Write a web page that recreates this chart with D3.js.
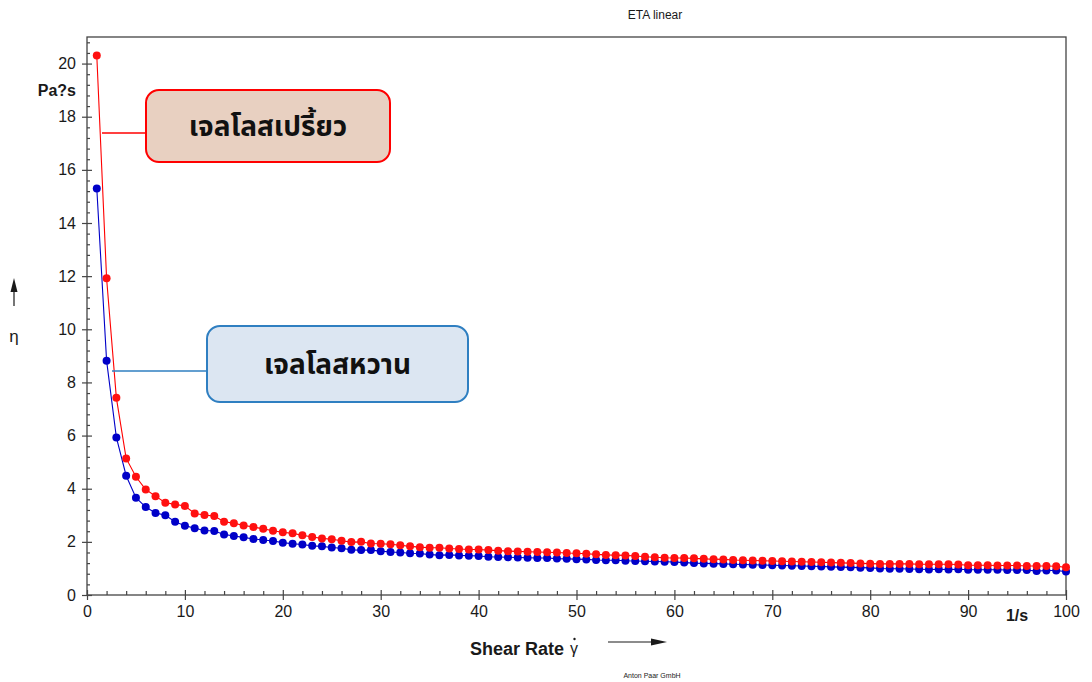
<!DOCTYPE html>
<html>
<head>
<meta charset="utf-8">
<script src="https://cdn.jsdelivr.net/npm/d3@7"></script>
<style>
  html, body { margin: 0; padding: 0; background: #fff; }
  svg { display: block; font-family: "Liberation Sans", Arial, sans-serif; }
</style>
</head>
<body>
<svg id="chart" width="1092" height="682"></svg>
<script>
// Shear rate steps (1/s)
const shearRate = d3.range(1, 101);

// Viscosity of sour jelly (Pa·s)
const etaSour = [
  20.3, 11.92, 7.42, 5.14, 4.45, 3.97, 3.72, 3.47, 3.41, 3.35,
  3.07, 3.01, 2.97, 2.76, 2.70, 2.62, 2.56, 2.49, 2.42, 2.36,
  2.32, 2.25, 2.18, 2.13, 2.10, 2.04, 1.99, 2.00, 1.94, 1.93,
  1.91, 1.87, 1.83, 1.80, 1.78, 1.78, 1.75, 1.73, 1.71, 1.71,
  1.69, 1.67, 1.65, 1.64, 1.63, 1.62, 1.61, 1.60, 1.58, 1.57,
  1.55, 1.53, 1.51, 1.50, 1.49, 1.47, 1.44, 1.42, 1.40, 1.39,
  1.39, 1.38, 1.36, 1.35, 1.34, 1.32, 1.31, 1.30, 1.29, 1.28,
  1.27, 1.26, 1.25, 1.24, 1.23, 1.22, 1.21, 1.20, 1.19, 1.18,
  1.17, 1.17, 1.17, 1.17, 1.16, 1.16, 1.16, 1.16, 1.15, 1.12,
  1.12, 1.12, 1.11, 1.11, 1.11, 1.09, 1.09, 1.09, 1.08, 1.04
];

// Viscosity of sweet jelly (Pa·s)
const etaSweet = [
  15.3, 8.82, 5.93, 4.49, 3.66, 3.31, 3.09, 3.00, 2.76, 2.61,
  2.51, 2.43, 2.41, 2.28, 2.22, 2.17, 2.11, 2.07, 2.03, 1.97,
  1.93, 1.90, 1.85, 1.83, 1.79, 1.76, 1.70, 1.69, 1.69, 1.65,
  1.62, 1.60, 1.57, 1.56, 1.52, 1.50, 1.51, 1.49, 1.48, 1.47,
  1.44, 1.43, 1.42, 1.41, 1.40, 1.39, 1.39, 1.37, 1.36, 1.35,
  1.34, 1.32, 1.31, 1.31, 1.29, 1.28, 1.27, 1.26, 1.25, 1.24,
  1.22, 1.20, 1.19, 1.18, 1.17, 1.16, 1.15, 1.14, 1.13, 1.12,
  1.11, 1.10, 1.09, 1.08, 1.07, 1.06, 1.05, 1.04, 1.03, 1.02,
  1.00, 0.99, 0.99, 0.98, 0.97, 0.96, 0.97, 0.96, 0.97, 0.95,
  0.95, 0.95, 0.95, 0.94, 0.94, 0.94, 0.90, 0.92, 0.92, 0.88
];

const xMajor = [0, 10, 20, 30, 40, 50, 60, 70, 80, 90, 100];
const yMajor = [0, 2, 4, 6, 8, 10, 12, 14, 16, 18, 20];
const labelSour = "เจลโลสเปรี้ยว";
const labelSweet = "เจลโลสหวาน";

const svg = d3.select("#chart");
const plotLeft = 87, plotRight = 1066, plotTop = 37, plotBottom = 595;

const x = d3.scaleLinear().domain([0, 100]).range([plotLeft, plotRight]);
const y = d3.scaleLinear().domain([0, 21]).range([plotBottom, plotTop]);

const axisColor = "#444";
const labelColor = "#1a1a1a";

// Plot frame
svg.append("rect")
  .attr("x", plotLeft).attr("y", plotTop)
  .attr("width", plotRight - plotLeft).attr("height", plotBottom - plotTop)
  .attr("fill", "none").attr("stroke", axisColor).attr("stroke-width", 1.3);

function styleAxis(g) {
  g.select(".domain").remove();
  g.selectAll("line").attr("stroke", axisColor).attr("stroke-width", 1.2);
  g.selectAll("text").attr("fill", labelColor).style("font-size", "16px")
    .style("font-family", "'Liberation Sans', Arial, sans-serif");
}

// Y axis: major ticks crossing the axis, minor ticks inside
const yMinor = d3.range(0, 21.01, 0.4).map(v => +v.toFixed(1)).filter(v => !yMajor.includes(v));
svg.append("g").attr("transform", `translate(${plotLeft},0)`)
  .call(d3.axisLeft(y).tickValues(yMinor).tickSize(-3).tickFormat(""))
  .call(styleAxis);
svg.append("g").attr("transform", `translate(${plotLeft},0)`)
  .call(d3.axisLeft(y).tickValues(yMajor).tickSize(-5).tickFormat(""))
  .call(styleAxis);
svg.append("g").attr("transform", `translate(${plotLeft},0)`)
  .call(d3.axisLeft(y).tickValues(yMajor).tickSize(5).tickPadding(6).tickFormat(d3.format("d")))
  .call(styleAxis);

// X axis
const xMinor = d3.range(0, 101, 2).filter(v => !xMajor.includes(v));
svg.append("g").attr("transform", `translate(0,${plotBottom})`)
  .call(d3.axisBottom(x).tickValues(xMinor).tickSize(-4).tickFormat(""))
  .call(styleAxis);
svg.append("g").attr("transform", `translate(0,${plotBottom})`)
  .call(d3.axisBottom(x).tickValues(xMajor).tickSize(-5).tickFormat(""))
  .call(styleAxis);
svg.append("g").attr("transform", `translate(0,${plotBottom})`)
  .call(d3.axisBottom(x).tickValues(xMajor).tickSize(5).tickPadding(6).tickFormat(d3.format("d")))
  .call(styleAxis);

// Unit labels placed on the axes
svg.append("text").attr("x", x(95)).attr("y", 621)
  .attr("text-anchor", "middle").attr("font-weight", "bold")
  .attr("font-size", 16).attr("fill", labelColor).text("1/s");
svg.append("text").attr("x", 76).attr("y", y(19) + 6)
  .attr("text-anchor", "end").attr("font-weight", "bold")
  .attr("font-size", 16).attr("fill", labelColor).text("Pa?s");

// Series
const series = [
  { values: etaSweet, line: "#0000c8", dot: "#0000c8" },
  { values: etaSour, line: "#ff0000", dot: "#ff1010" }
];
const line = d3.line().x((d, i) => x(shearRate[i])).y(d => y(d));
series.forEach(s => {
  svg.append("path").datum(s.values)
    .attr("d", line).attr("fill", "none")
    .attr("stroke", s.line).attr("stroke-width", 1.1);
  svg.append("g").selectAll("circle").data(s.values).join("circle")
    .attr("cx", (d, i) => x(shearRate[i])).attr("cy", d => y(d))
    .attr("r", 4).attr("fill", s.dot);
});

// Titles
svg.append("text").attr("x", 655).attr("y", 19)
  .attr("text-anchor", "middle").attr("font-size", 12).attr("fill", labelColor)
  .text("ETA linear");
svg.append("text").attr("x", 652).attr("y", 678)
  .attr("text-anchor", "middle").attr("font-size", 7).attr("fill", "#222")
  .text("Anton Paar GmbH");

// X axis title with arrow
svg.append("text").attr("x", 470).attr("y", 655)
  .attr("font-weight", "bold").attr("font-size", 18).attr("fill", labelColor)
  .text("Shear Rate");
svg.append("text").attr("x", 574).attr("y", 654)
  .attr("text-anchor", "middle").attr("font-size", 16).attr("fill", labelColor)
  .text("γ");
svg.append("circle").attr("cx", 574.5).attr("cy", 639).attr("r", 1.2).attr("fill", labelColor);
svg.append("line").attr("x1", 608).attr("x2", 652).attr("y1", 642).attr("y2", 642)
  .attr("stroke", labelColor).attr("stroke-width", 1.2);
svg.append("path").attr("d", "M651,638.5 L667,642 L651,645.5 Z").attr("fill", labelColor);

// Y axis title with arrow
svg.append("text").attr("x", 14).attr("y", 342)
  .attr("text-anchor", "middle").attr("font-size", 17).attr("fill", labelColor)
  .text("η");
svg.append("line").attr("x1", 14).attr("x2", 14).attr("y1", 306).attr("y2", 290)
  .attr("stroke", labelColor).attr("stroke-width", 1.2);
svg.append("path").attr("d", "M10.5,292 L14,278 L17.5,292 Z").attr("fill", labelColor);

// Callout boxes
const callouts = [
  { text: labelSour, bx: 146, by: 90, bw: 244, bh: 72, fill: "#e8d0c1", stroke: "#ff0000",
    lx1: 102, ly: 133 },
  { text: labelSweet, bx: 207, by: 326, bw: 261, bh: 76, fill: "#dce6f2", stroke: "#2f7fc1",
    lx1: 112, ly: 371 }
];
callouts.forEach(c => {
  svg.append("line").attr("x1", c.lx1).attr("x2", c.bx).attr("y1", c.ly).attr("y2", c.ly)
    .attr("stroke", c.stroke).attr("stroke-width", 1.6);
  svg.append("rect").attr("x", c.bx).attr("y", c.by).attr("width", c.bw).attr("height", c.bh)
    .attr("rx", 13).attr("ry", 13)
    .attr("fill", c.fill).attr("stroke", c.stroke).attr("stroke-width", 2);
  svg.append("text").attr("x", c.bx + c.bw / 2).attr("y", c.by + c.bh / 2 + 10)
    .attr("text-anchor", "middle").attr("font-size", 28).attr("font-weight", "bold")
    .style("font-family", "'Noto Sans Thai', 'Leelawadee UI', Tahoma, sans-serif")
    .attr("fill", "#111").text(c.text);
});
</script>
</body>
</html>
